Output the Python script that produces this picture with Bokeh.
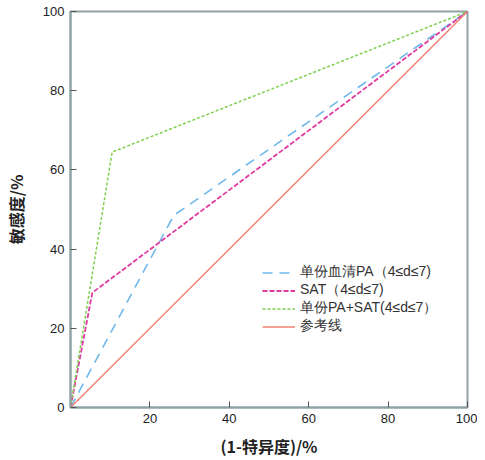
from bokeh.plotting import figure
from bokeh.models import Legend, LegendItem, FixedTicker
from bokeh.embed import file_html
from bokeh.resources import INLINE

# Data
pa_x = [0, 26, 100]
pa_y = [0, 48.5, 100]
sat_x = [0, 5.5, 100]
sat_y = [0, 29, 100]
comb_x = [0, 10.5, 100]
comb_y = [0, 64.5, 100]
ref_x = [0, 100]
ref_y = [0, 100]
ticks = [0, 20, 40, 60, 80, 100]
labels = ["单份血清PA（4≤d≤7)", "SAT（4≤d≤7)", "单份PA+SAT(4≤d≤7）", "参考线"]

frame_col = "#8fa3a5"

p = figure(width=477, height=460, output_backend="svg", toolbar_location=None,
           x_range=(0, 100), y_range=(0, 100),
           min_border_left=69, min_border_right=10, min_border_top=11, min_border_bottom=52)
p.grid.visible = False
p.outline_line_color = frame_col
p.outline_line_width = 2
p.background_fill_color = "white"
p.border_fill_color = "white"

for ax in (p.xaxis[0], p.yaxis[0]):
    ax.ticker = FixedTicker(ticks=ticks)
    ax.axis_line_color = frame_col
    ax.axis_line_width = 2
    ax.major_tick_in = 6
    ax.major_tick_out = 0
    ax.major_tick_line_color = "#555555"
    ax.minor_tick_line_color = None
    ax.major_label_text_font = "Liberation Sans"
    ax.major_label_text_font_size = "13px"
    ax.major_label_text_color = "#222222"
    ax.axis_label_text_font = "Noto Sans CJK SC"
    ax.axis_label_text_font_style = "bold"
    ax.axis_label_text_font_size = "16px"
    ax.axis_label_text_color = "#222222"

p.xaxis.major_label_overrides = {0: ""}
p.xaxis.axis_label = "(1-特异度)/%"
p.yaxis.axis_label = "敏感度/%"
p.xaxis.major_label_standoff = 6
p.yaxis.major_label_standoff = 6
p.xaxis.axis_label_standoff = 8
p.yaxis.axis_label_standoff = 12

r1 = p.line(pa_x, pa_y, line_color="#6fb8ea", line_width=1.6, line_dash="10 7")
r2 = p.line(sat_x, sat_y, line_color="#e03aa0", line_width=1.8, line_dash="5 2")
r3 = p.line(comb_x, comb_y, line_color="#7dd04e", line_width=1.5, line_dash="3 2")
r4 = p.line(ref_x, ref_y, line_color="#f08373", line_width=1.5)

legend = Legend(items=[LegendItem(label=labels[0], renderers=[r1]),
                       LegendItem(label=labels[1], renderers=[r2]),
                       LegendItem(label=labels[2], renderers=[r3]),
                       LegendItem(label=labels[3], renderers=[r4])],
                location=(192, 72))
legend.border_line_color = None
legend.background_fill_alpha = 0
legend.padding = 0
legend.margin = 0
legend.spacing = 0
legend.glyph_width = 33
legend.glyph_height = 17
legend.label_height = 17
legend.label_standoff = 5
legend.label_text_font = "Liberation Sans"
legend.label_text_font_size = "14px"
legend.label_text_color = "#333333"
p.add_layout(legend)

open("out.html", "w").write(file_html(p, INLINE))
